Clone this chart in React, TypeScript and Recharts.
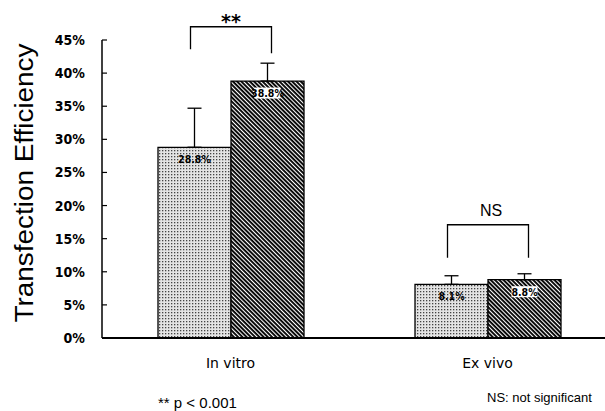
import React from "react";
import { BarChart, Bar, XAxis, YAxis, ErrorBar, LabelList, ReferenceLine } from "recharts";

const categories = ["In vitro", "Ex vivo"];
const controlValues = [28.8, 8.1];
const treatedValues = [38.8, 8.8];
const controlErrors = [5.9, 1.3];
const treatedErrors = [2.7, 0.9];
const sigLabels = ["**", "NS"];
const bracketTop = [47.0, 17.1];
const bracketLeftBottom = [43.6, 12.1];
const bracketRightBottom = [43.0, 12.1];
const yTicks = [0, 5, 10, 15, 20, 25, 30, 35, 40, 45];

const data = categories.map((c, i) => ({
  name: c,
  control: controlValues[i],
  treated: treatedValues[i],
  controlErr: [0, controlErrors[i]],
  treatedErr: [0, treatedErrors[i]],
}));

const NARROW = "'Liberation Sans Narrow', 'DejaVu Sans Condensed', 'Arial Narrow', sans-serif";
const SANS = "'Liberation Sans', Arial, sans-serif";
const DEJA = "'DejaVu Sans', sans-serif";

function geom(props: any) {
  const vb = props.viewBox || {};
  const x = props.x ?? vb.x;
  const y = props.y ?? vb.y;
  const width = props.width ?? vb.width;
  const height = props.height ?? vb.height;
  return { x: Number(x), y: Number(y), width: Number(width), height: Number(height) };
}

const renderControlLabel = (props: any) => {
  const { x, y, width } = geom(props);
  const value = props.value;
  return (
    <text
      x={x + width / 2}
      y={y + 12}
      textAnchor="middle"
      dominantBaseline="central"
      fontFamily={NARROW}
      fontWeight="bold"
      fontSize={10.5}
      fill="#000"
    >
      {`${value}%`}
    </text>
  );
};

const renderTreatedLabel = (props: any) => {
  const { x, y, width, height } = geom(props);
  const value = Number(props.value);
  const i = props.index ?? treatedValues.indexOf(value);
  const bottom = y + height;
  const ppu = height / value;
  const py = (v: number) => bottom - v * ppu;
  const cx = x + width / 2;
  const leftX = x - width / 2 - 4;
  const rightX = x + width / 2 + 4;
  const topY = py(bracketTop[i]);
  const sig = sigLabels[i];
  const sigBaseline = sig === "**" ? topY + 1 : topY - 9;
  return (
    <g>
      <rect x={cx - 13} y={y + 6.5} width={26} height={11} fill="#fff" />
      <text
        x={cx}
        y={y + 12}
        textAnchor="middle"
        dominantBaseline="central"
        fontFamily={NARROW}
        fontWeight="bold"
        fontSize={10.5}
        fill="#000"
      >
        {`${value}%`}
      </text>
      <path
        d={`M${leftX},${py(bracketLeftBottom[i])} L${leftX},${topY} L${rightX},${topY} L${rightX},${py(bracketRightBottom[i])}`}
        fill="none"
        stroke="#000"
        strokeWidth={1.3}
      />
      <text
        x={(leftX + rightX) / 2 + (sig === "NS" ? 3 : 0)}
        y={sigBaseline}
        textAnchor="middle"
        fontFamily={sig === "**" ? DEJA : SANS}
        fontWeight={sig === "**" ? "bold" : "normal"}
        fontSize={sig === "**" ? 19 : 16}
        fill="#000"
      >
        {sig}
      </text>
    </g>
  );
};

export default function App() {
  return (
    <div style={{ position: "absolute", left: 0, top: 0, width: 605, height: 411, overflow: "hidden", background: "#fff" }}>
      <svg width={0} height={0} style={{ position: "absolute" }}>
        <defs>
          <pattern id="stipple" width={3} height={3} patternUnits="userSpaceOnUse">
            <rect width={3} height={3} fill="#e4e4e4" />
            <rect x={0} y={0} width={1.3} height={1.3} fill="#444" />
          </pattern>
          <pattern id="hatch" width={3} height={3} patternUnits="userSpaceOnUse" patternTransform="rotate(45)">
            <rect width={3} height={3} fill="#fff" />
            <rect x={0} y={0} width={3} height={1.9} fill="#000" />
          </pattern>
        </defs>
      </svg>
      <BarChart
        width={620}
        height={411}
        data={data}
        margin={{ top: 40, right: 4, bottom: 0, left: 0 }}
        barGap={0}
        barSize={73}
      >
        <XAxis
          dataKey="name"
          height={73}
          tickLine={false}
          tickSize={0}
          tickMargin={20}
          axisLine={{ stroke: "#000", strokeWidth: 2 }}
          tick={{ fontFamily: DEJA, fontSize: 14, fill: "#000" }}
        />
        <XAxis xAxisId="mid" type="number" domain={[0, 2]} hide />
        <YAxis
          width={102}
          domain={[0, 45]}
          ticks={yTicks}
          interval={0}
          tickSize={-5}
          tickMargin={22}
          tickFormatter={(v: number) => `${v}%`}
          axisLine={{ stroke: "#000", strokeWidth: 1.5 }}
          tickLine={{ stroke: "#000", strokeWidth: 1.2 }}
          tick={{ fontFamily: NARROW, fontWeight: "bold", fontSize: 14, fill: "#000" }}
        />
        <ReferenceLine
          xAxisId="mid"
          segment={[{ x: 1, y: 0 }, { x: 1, y: 0.8 }]}
          stroke="#000"
          strokeWidth={1.2}
          ifOverflow="visible"
        />
        <Bar dataKey="control" fill="url(#stipple)" stroke="#000" strokeWidth={1.3} isAnimationActive={false}>
          <ErrorBar dataKey="controlErr" direction="y" width={7} stroke="#000" strokeWidth={1.3} />
          <LabelList dataKey="control" content={renderControlLabel} />
        </Bar>
        <Bar dataKey="treated" fill="url(#hatch)" stroke="#000" strokeWidth={1.3} isAnimationActive={false}>
          <ErrorBar dataKey="treatedErr" direction="y" width={7} stroke="#000" strokeWidth={1.3} />
          <LabelList dataKey="treated" content={renderTreatedLabel} />
        </Bar>
      </BarChart>
      <svg width={605} height={411} style={{ position: "absolute", left: 0, top: 0, pointerEvents: "none" }}>
        <text
          x={33}
          y={183}
          transform="rotate(-90 33 183)"
          textAnchor="middle"
          fontFamily={SANS}
          fontSize={25}
          textLength={279}
          lengthAdjust="spacingAndGlyphs"
          fill="#000"
        >
          Transfection Efficiency
        </text>
        <text x={158} y={408} fontFamily={SANS} fontSize={15} fill="#000">
          ** p {"<"} 0.001
        </text>
        <text x={487} y={402} fontFamily={SANS} fontSize={13} fill="#000">
          NS: not significant
        </text>
      </svg>
    </div>
  );
}
